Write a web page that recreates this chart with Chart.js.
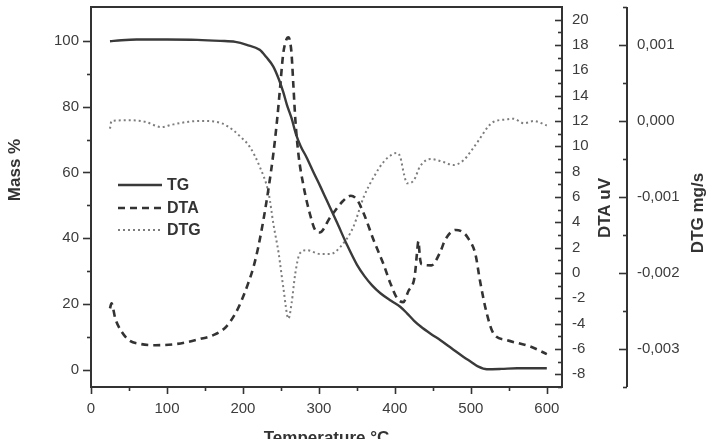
<!DOCTYPE html>
<html>
<head>
<meta charset="utf-8">
<script src="https://cdn.jsdelivr.net/npm/chart.js@4.4.1/dist/chart.umd.min.js"></script>
<style>
  html, body { margin: 0; padding: 0; background: #fff; }
</style>
</head>
<body>
<canvas id="c" width="716" height="439"></canvas>
<script>
// --- data ---
const tgTemp = [25, 40, 60, 100, 140, 170, 190, 205, 222, 231, 240, 247, 253, 258, 264, 270, 276, 284, 293, 302,
  310, 324, 337, 350, 360, 370, 381, 395, 407, 416, 425, 434, 447, 460, 475, 490, 500, 510, 521, 540, 561, 600];
const tgMass = [99.9, 100.2, 100.4, 100.4, 100.3, 100, 99.7, 98.8, 97.3, 95, 92.2, 88.5, 84.5, 80.5, 76.5, 71.5, 68, 64.5, 60, 55.7,
  51.7, 44.7, 38, 32, 28.5, 25.7, 23.3, 21, 19.2, 17.2, 15, 13.2, 11, 9, 6.5, 4, 2.5, 1, 0.2, 0.3, 0.5, 0.5];

const dtaTemp = [25, 27, 32, 40, 50, 65, 85, 113, 144, 161, 177, 190, 198, 207, 214, 220, 227, 234, 240, 245,
  249, 253, 257, 260, 262, 264, 266.5, 269, 273, 280, 288, 295, 301, 315, 332, 342, 350, 359, 372, 385,
  394, 403, 411, 418, 425, 427, 429, 431, 433, 435, 448, 460, 466, 480, 490, 497, 506, 512, 521, 530, 547, 578, 600];
const dtaValue = [-2.8, -2.4, -3.6, -4.6, -5.3, -5.6, -5.7, -5.6, -5.2, -4.9, -4.3, -3.2, -2.2, -0.8, 0.5, 2.0, 4.2, 6.8, 9.4, 12.1,
  14.7, 17.3, 18.4, 18.6, 18.3, 17.3, 14.7, 12.1, 9.4, 6.8, 4.7, 3.4, 3.2, 4.4, 5.7, 6.1, 5.8, 4.7, 2.6, 0.7,
  -0.8, -2.0, -2.3, -1.4, -0.6, 0.2, 1.5, 2.5, 1.2, 0.7, 0.6, 1.7, 2.6, 3.4, 3.2, 2.7, 1.5, -0.6, -3.2, -4.8, -5.3, -5.8, -6.4];

const dtgTemp = [25, 27, 50, 71, 93, 106, 128, 146, 172, 187, 196, 209, 222, 234, 240, 247, 253, 260, 264, 269,
  275, 284, 302, 315, 328, 345, 359, 372, 385, 395, 402, 407, 412, 416, 425, 433, 447, 464, 477, 490,
  500, 512, 523, 530, 547, 556, 570, 583, 600];
const dtgValue = [-0.0001, 0, 0.00001, -0.00001, -0.00008, -0.00005, -0.00001, 0, -0.00003, -0.00012, -0.0002, -0.00034, -0.0006, -0.00096, -0.00135, -0.00174, -0.00218, -0.0026, -0.0024, -0.002,
  -0.00174, -0.0017, -0.00175, -0.00175, -0.00166, -0.0014, -0.001, -0.00074, -0.00054, -0.00045, -0.00042, -0.00047, -0.0007, -0.00082, -0.00078, -0.0006, -0.0005, -0.00054, -0.00058, -0.00052,
  -0.0004, -0.00023, -0.00007, -0.00001, 0.00002, 0.00003, -0.00003, 0, -0.00006];

// tick values (major ones get a label)
const tempMajor = [0, 100, 200, 300, 400, 500, 600];
const tempMinor = [50, 150, 250, 350, 450, 550];
const massMajor = [0, 20, 40, 60, 80, 100];
const massMinor = [10, 30, 50, 70, 90];
const dtaMajor = [-8, -6, -4, -2, 0, 2, 4, 6, 8, 10, 12, 14, 16, 18, 20];
const dtaMinor = [-9, -7, -5, -3, -1, 1, 3, 5, 7, 9, 11, 13, 15, 17, 19];
const dtgMajor = [0.001, 0, -0.001, -0.002, -0.003];
const dtgMinor = [0.0015, 0.0005, -0.0005, -0.0015, -0.0025, -0.0035];

const FONT = '"Liberation Sans", Arial, sans-serif';
const INK = '#333';
const LABEL = '#3c3c3c';

const pairs = (xs, ys) => xs.map((x, i) => ({ x, y: ys[i] }));
const isMajor = (list, v) => list.some(m => Math.abs(m - v) < 1e-9);
const fixedTicks = (major, minor) => scale => {
  scale.ticks = major.concat(minor).sort((a, b) => a - b).map(value => ({ value }));
};
// fixed box sizes, and no extra room for half-labels at the ends
const boxSize = (w, h) => s => {
  if (w) s.width = w;
  if (h) s.height = h;
  s.paddingTop = 0;
  s.paddingBottom = 0;
  s.paddingLeft = 0;
  s.paddingRight = 0;
};
const dtgLabel = v => {
  const s = (Math.round(v * 1000) / 1000).toFixed(3).replace('.', ',');
  return s === '-0,000' ? '0,000' : s;
};

const tickFont = { family: FONT, size: 15 };
const noGrid = { display: false, drawTicks: false };

// frame, tick marks, axis titles and legend
const decor = {
  id: 'decor',
  afterDraw(chart) {
    const { ctx, chartArea: a, scales } = chart;
    ctx.save();
    ctx.strokeStyle = INK;
    ctx.lineWidth = 2;
    ctx.setLineDash([]);
    ctx.strokeRect(a.left, a.top, a.right - a.left, a.bottom - a.top);

    const dtgX = scales.dtg.left;
    ctx.beginPath();
    ctx.moveTo(dtgX, a.top);
    ctx.lineTo(dtgX, a.bottom);
    ctx.stroke();

    const marks = (scale, values, len, horizontal, base, dir) => {
      for (const v of values) {
        const p = Math.round(scale.getPixelForValue(v)) + 0.5;
        ctx.beginPath();
        if (horizontal) { ctx.moveTo(p, base); ctx.lineTo(p, base + dir * len); }
        else { ctx.moveTo(base, p); ctx.lineTo(base + dir * len, p); }
        ctx.stroke();
      }
    };
    ctx.lineWidth = 1.6;
    marks(scales.x, tempMajor, 7, true, a.bottom, 1);
    marks(scales.x, tempMinor, 4, true, a.bottom, 1);
    marks(scales.y, massMajor, 8, false, a.left, -1);
    marks(scales.y, massMinor, 4, false, a.left, -1);
    marks(scales.dta, dtaMajor, 7, false, a.right, -1);
    marks(scales.dta, dtaMinor, 4, false, a.right, -1);
    marks(scales.dtg, dtgMajor, 8, false, dtgX, -1);
    marks(scales.dtg, dtgMinor, 4, false, dtgX, -1);

    ctx.fillStyle = INK;
    ctx.font = 'bold 17px ' + FONT;
    ctx.textAlign = 'center';
    ctx.textBaseline = 'middle';
    const vText = (text, x, y) => {
      ctx.save();
      ctx.translate(x, y);
      ctx.rotate(-Math.PI / 2);
      ctx.fillText(text, 0, 0);
      ctx.restore();
    };
    vText('Mass %', 15, 170);
    vText('DTA uV', scales.dta.left + 43, 208);
    vText('DTG mg/s', dtgX + 71, 213);
    ctx.fillText('Temperature °C', (a.left + a.right) / 2, 438);

    // legend
    const rowY = [185, 208, 230];
    ctx.font = 'bold 16px ' + FONT;
    ctx.textAlign = 'left';
    chart.data.datasets.forEach((ds, i) => {
      const y = rowY[i];
      ctx.strokeStyle = ds.borderColor;
      ctx.lineWidth = ds.borderWidth;
      ctx.setLineDash(ds.borderDash || []);
      ctx.beginPath();
      ctx.moveTo(118, y);
      ctx.lineTo(162, y);
      ctx.stroke();
      ctx.fillStyle = INK;
      ctx.fillText(ds.label, 167, y + 1);
    });
    ctx.restore();
  }
};

new Chart(document.getElementById('c'), {
  type: 'line',
  data: {
    datasets: [
      {
        label: 'TG',
        data: pairs(tgTemp, tgMass),
        yAxisID: 'y',
        borderColor: '#3a3a3a',
        borderWidth: 2.4,
      },
      {
        label: 'DTA',
        data: pairs(dtaTemp, dtaValue),
        yAxisID: 'dta',
        borderColor: '#333333',
        borderWidth: 2.6,
        borderDash: [7, 5],
      },
      {
        label: 'DTG',
        data: pairs(dtgTemp, dtgValue),
        yAxisID: 'dtg',
        borderColor: '#7d7d7d',
        borderWidth: 2,
        borderDash: [2, 3],
      },
    ]
  },
  options: {
    responsive: false,
    animation: false,
    layout: { padding: { top: 7, left: 0, right: 0, bottom: 0 } },
    elements: {
      point: { radius: 0 },
      line: { cubicInterpolationMode: 'monotone', fill: false }
    },
    plugins: {
      legend: { display: false },
      tooltip: { enabled: false }
    },
    scales: {
      x: {
        type: 'linear',
        min: 0,
        max: 620,
        afterBuildTicks: fixedTicks(tempMajor, tempMinor),
        afterFit: boxSize(0, 52),
        grid: noGrid,
        border: { display: false },
        ticks: {
          autoSkip: false, maxRotation: 0, padding: 13, color: LABEL, font: tickFont,
          callback: v => isMajor(tempMajor, v) ? String(v) : ''
        }
      },
      y: {
        position: 'left',
        min: -5.2,
        max: 110.3,
        afterBuildTicks: fixedTicks(massMajor, massMinor),
        afterFit: boxSize(91, 0),
        grid: noGrid,
        border: { display: false },
        ticks: {
          autoSkip: false, padding: 12, color: LABEL, font: tickFont,
          callback: v => isMajor(massMajor, v) ? String(v) : ''
        }
      },
      dta: {
        position: 'right',
        weight: 0,
        min: -9,
        max: 21,
        afterBuildTicks: fixedTicks(dtaMajor, dtaMinor),
        afterFit: boxSize(65, 0),
        grid: noGrid,
        border: { display: false },
        ticks: {
          autoSkip: false, padding: 10, color: LABEL, font: tickFont,
          callback: v => isMajor(dtaMajor, v) ? String(v) : ''
        }
      },
      dtg: {
        position: 'right',
        weight: 1,
        min: -0.0035,
        max: 0.0015,
        afterBuildTicks: fixedTicks(dtgMajor, dtgMinor),
        afterFit: boxSize(89, 0),
        grid: noGrid,
        border: { display: false },
        ticks: {
          autoSkip: false, padding: 10, color: LABEL, font: tickFont,
          callback: v => isMajor(dtgMajor, v) ? dtgLabel(v) : ''
        }
      }
    }
  },
  plugins: [decor]
});
</script>
</body>
</html>
